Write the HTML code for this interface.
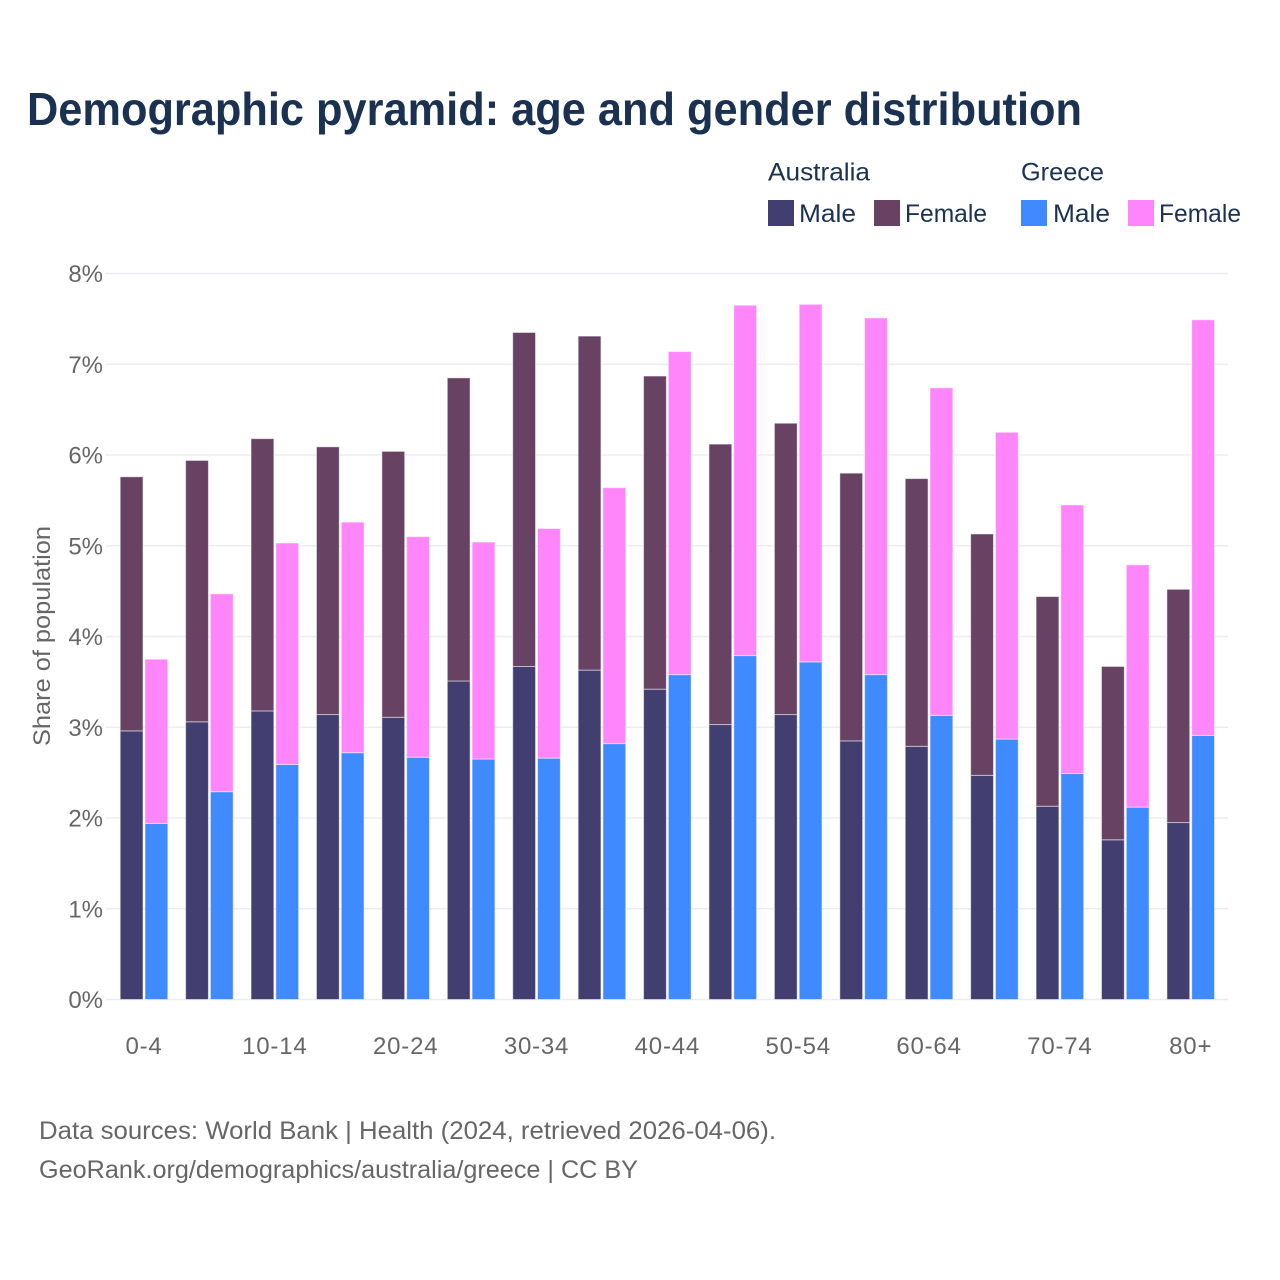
<!DOCTYPE html>
<html lang="en">
<head>
<meta charset="utf-8">
<title>Demographic pyramid</title>
<style>
html,body{margin:0;padding:0;background:#fff;}
svg{display:block;}
text{font-family:"Liberation Sans",sans-serif;}
</style>
</head>
<body>
<svg id="chart" xmlns="http://www.w3.org/2000/svg" width="1280" height="1280" viewBox="0 0 1280 1280">
  <rect width="1280" height="1280" fill="#ffffff"/>
  <text x="27" y="125" font-size="46" font-weight="700" fill="#1a3152" textLength="1055" lengthAdjust="spacingAndGlyphs">Demographic pyramid: age and gender distribution</text>

  <g font-size="25" fill="#1a3152">
    <text x="768" y="180.5" textLength="102" lengthAdjust="spacingAndGlyphs">Australia</text>
    <text x="1021" y="180.5" textLength="83" lengthAdjust="spacingAndGlyphs">Greece</text>
    <rect x="768" y="200" width="26" height="26" fill="#423f70"/>
    <text x="799" y="222" textLength="57" lengthAdjust="spacingAndGlyphs">Male</text>
    <rect x="874" y="200" width="26" height="26" fill="#674262"/>
    <text x="905" y="222" textLength="82" lengthAdjust="spacingAndGlyphs">Female</text>
    <rect x="1021" y="200" width="26" height="26" fill="#408aff"/>
    <text x="1053" y="222" textLength="57" lengthAdjust="spacingAndGlyphs">Male</text>
    <rect x="1128" y="200" width="26" height="26" fill="#ff85fa"/>
    <text x="1159" y="222" textLength="82" lengthAdjust="spacingAndGlyphs">Female</text>
  </g>

  <g id="grid"></g>
  <g id="yticks"></g>
  <g id="bars"></g>
  <g id="xticks"></g>

  <text transform="translate(50,636) rotate(-90)" text-anchor="middle" font-size="24" fill="#666666" textLength="220" lengthAdjust="spacingAndGlyphs">Share of population</text>

  <text x="39" y="1139" font-size="25" fill="#666666" textLength="737" lengthAdjust="spacingAndGlyphs">Data sources: World Bank | Health (2024, retrieved 2026-04-06).</text>
  <text x="39" y="1178" font-size="25" fill="#666666" textLength="599" lengthAdjust="spacingAndGlyphs">GeoRank.org/demographics/australia/greece | CC BY</text>
</svg>
<script>
const categories = ["0-4","5-9","10-14","15-19","20-24","25-29","30-34","35-39","40-44","45-49","50-54","55-59","60-64","65-69","70-74","75-79","80+"];
const australiaMale = [2.96,3.06,3.18,3.14,3.11,3.51,3.67,3.63,3.42,3.03,3.14,2.85,2.79,2.47,2.13,1.76,1.95];
const australiaFemale = [2.80,2.88,3.00,2.95,2.93,3.34,3.68,3.68,3.45,3.09,3.21,2.95,2.95,2.66,2.31,1.91,2.57];
const greeceMale = [1.94,2.29,2.59,2.72,2.67,2.65,2.66,2.82,3.58,3.79,3.72,3.58,3.13,2.87,2.49,2.12,2.91];
const greeceFemale = [1.81,2.18,2.44,2.54,2.43,2.39,2.53,2.82,3.56,3.86,3.94,3.93,3.61,3.38,2.96,2.67,4.58];
const yTickValues = [0,1,2,3,4,5,6,7,8];

const NS = "http://www.w3.org/2000/svg";
const yScale = function (v) { return 999.5 - v * 90.75; };
const xCenter = function (i) { return 144 + i * 65.42; };
const BAR_W = 22.8;
const BAR_OFFSET = 1;

function mk(tag, parent, attrs) {
  const el = document.createElementNS(NS, tag);
  Object.keys(attrs).forEach(function (k) { el.setAttribute(k, attrs[k]); });
  parent.appendChild(el);
  return el;
}

const gridG = document.getElementById("grid");
const yG = document.getElementById("yticks");
yTickValues.forEach(function (v) {
  const line = mk("line", gridG, {x1: 106, x2: 1228, y1: yScale(v), y2: yScale(v), stroke: "#ededf1", "stroke-width": 1.6});
  
  
  const label = mk("text", yG, {x: 103, y: yScale(v) + 8.5, "text-anchor": "end", "font-size": 24, fill: "#666666"});
  
  
  label.textContent = v + "%";
});

const barsG = document.getElementById("bars");
function drawBar(x, v0, v1, fill) {
  const top = yScale(v0 + v1);
  const bottom = yScale(v0);
  const r = mk("rect", barsG, {x: x, y: top, width: BAR_W, height: bottom - top, fill: fill, stroke: "#ffffff", "stroke-opacity": 0.5, "stroke-width": 1});
  return r;
}
categories.forEach(function (c, i) {
  const cx = xCenter(i);
  const xa = cx - BAR_W - BAR_OFFSET;
  const xg = cx + BAR_OFFSET;
  const am = drawBar(xa, 0, australiaMale[i], "#423f70");
  
  
  const af = drawBar(xa, australiaMale[i], australiaFemale[i], "#674262");
  
  
  const gm = drawBar(xg, 0, greeceMale[i], "#408aff");
  
  
  const gf = drawBar(xg, greeceMale[i], greeceFemale[i], "#ff85fa");
  
  
});

const xG = document.getElementById("xticks");
categories.forEach(function (c, i) {
  if (i % 2 !== 0) return;
  const t = mk("text", xG, {x: xCenter(i), y: 1054, "text-anchor": "middle", "font-size": 24, fill: "#666666", "letter-spacing": 0.8});
  
  
  t.textContent = c;
});
</script>
</body>
</html>
